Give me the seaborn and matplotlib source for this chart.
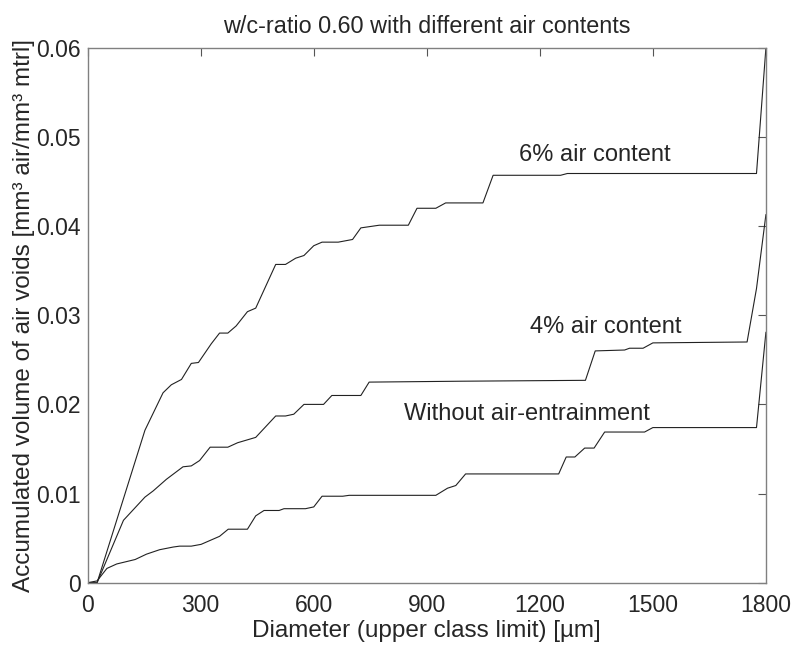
import pandas as pd
import matplotlib
matplotlib.use("Agg")
import matplotlib.pyplot as plt
import seaborn as sns

# 6% air content
x6 = [0, 25, 152, 200, 222, 249, 275, 294, 328, 350, 372, 394, 424, 446, 499, 525,
      552, 574, 600, 622, 665, 703, 725, 774, 851, 874, 924, 950, 1049, 1076, 1255,
      1273, 1775, 1800]
y6 = [0, 0.0000, 0.0171, 0.0213, 0.0222, 0.0228, 0.0246, 0.0247, 0.0268, 0.0280, 0.0280,
      0.0288, 0.0304, 0.0308, 0.0357, 0.0357, 0.0364, 0.0367, 0.0378, 0.0382, 0.0382,
      0.0385, 0.0398, 0.0401, 0.0401, 0.0420, 0.0420, 0.0426, 0.0426, 0.0457, 0.0457,
      0.0459, 0.0459, 0.0600]

# 4% air content
x4 = [0, 25, 95, 152, 174, 209, 253, 275, 297, 325, 372, 398, 446, 499, 525, 547, 574,
      626, 648, 725, 747, 990, 1321, 1347, 1425, 1438, 1474, 1500, 1750, 1775, 1800]
y4 = [0, 0.0000, 0.0070, 0.0096, 0.0103, 0.0116, 0.0130, 0.0131, 0.0137, 0.0152, 0.0152,
      0.0157, 0.0163, 0.0187, 0.0187, 0.0189, 0.0200, 0.0200, 0.0210, 0.0210, 0.0225,
      0.0226, 0.0227, 0.0260, 0.0261, 0.0263, 0.0263, 0.0269, 0.0270, 0.0330, 0.0413]

# without air-entrainment
x0 = [0, 25, 51, 77, 126, 156, 191, 227, 244, 275, 301, 350, 373, 424, 446, 468, 508,
      521, 578, 600, 622, 677, 694, 924, 955, 977, 1003, 1250, 1270, 1293, 1319, 1344,
      1372, 1478, 1500, 1775, 1800]
y0 = [0, 0.0002, 0.0016, 0.0021, 0.0026, 0.0032, 0.0037, 0.0040, 0.0041, 0.0041, 0.0043,
      0.0052, 0.0060, 0.0060, 0.0075, 0.0081, 0.0081, 0.0083, 0.0083, 0.0085, 0.0097,
      0.0097, 0.0098, 0.0098, 0.0106, 0.0109, 0.0122, 0.0122, 0.0141, 0.0141, 0.0151,
      0.0151, 0.0169, 0.0169, 0.0174, 0.0174, 0.0281]

labels = ["6% air content", "4% air content", "Without air-entrainment"]
label_x = [1346, 1375, 1166]
label_y = [0.0480, 0.0287, 0.0189]

df = pd.concat([
    pd.DataFrame({"d": x6, "v": y6, "s": labels[0]}),
    pd.DataFrame({"d": x4, "v": y4, "s": labels[1]}),
    pd.DataFrame({"d": x0, "v": y0, "s": labels[2]}),
], ignore_index=True)

sns.set_style("white")
plt.rcParams["font.family"] = ["Liberation Sans", "DejaVu Sans"]

fig = plt.figure(figsize=(7.97, 6.46), dpi=100)
ax = fig.add_axes([0.110, 0.098, 0.851, 0.828])

sns.lineplot(data=df, x="d", y="v", units="s", estimator=None, sort=False,
             color="#222222", linewidth=0.8, ax=ax, legend=False)

for t, tx, ty in zip(labels, label_x, label_y):
    ax.text(tx, ty, t, ha="center", va="center", fontsize=17)

ax.set_xlim(0, 1800)
ax.set_ylim(0, 0.06)
ax.set_xticks([0, 300, 600, 900, 1200, 1500, 1800])
ax.set_yticks([0, 0.01, 0.02, 0.03, 0.04, 0.05, 0.06])
ax.set_yticklabels(["0", "0.01", "0.02", "0.03", "0.04", "0.05", "0.06"])
ax.tick_params(direction="in", length=6, width=0.8, color="#555555",
               top=True, right=True, labelsize=16.5)
ax.tick_params(axis="x", pad=8)
ax.tick_params(axis="y", pad=5)
for sp in ax.spines.values():
    sp.set_color("#808080")
    sp.set_linewidth(1.0)

ax.set_xlabel("Diameter (upper class limit) [\u00b5m]", fontsize=17.5, labelpad=2)
ax.set_ylabel("Accumulated volume of air voids [mm\u00b3 air/mm\u00b3 mtrl]",
              fontsize=17.5, labelpad=1)
ax.set_title("w/c-ratio 0.60 with different air contents", fontsize=16.8, pad=11)

fig.savefig("out.png", dpi=100)
